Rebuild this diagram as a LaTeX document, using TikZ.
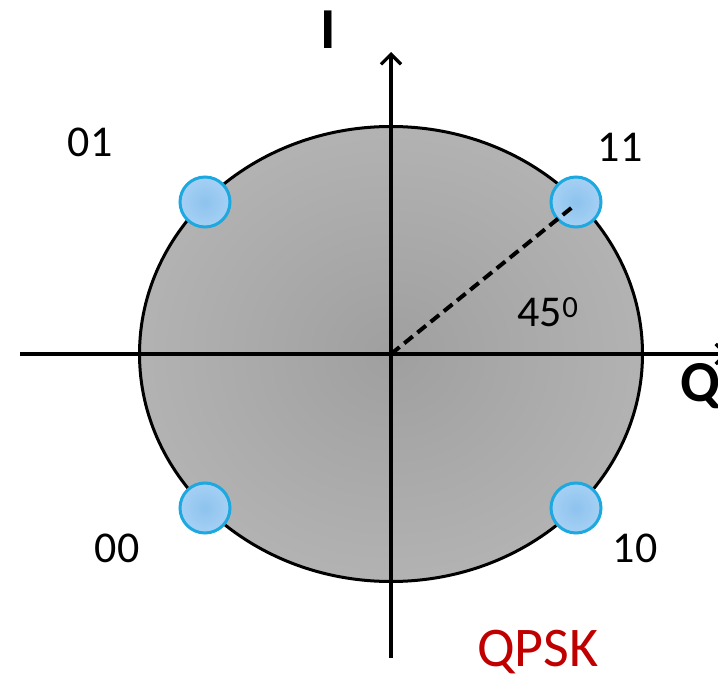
\documentclass[tikz,border=0pt]{standalone}
\usepackage{fontspec}
\setmainfont{Carlito}
\usetikzlibrary{arrows.meta}
\definecolor{dotfill}{HTML}{A6D0F4}
\definecolor{dotin}{HTML}{8DC3EE}
\definecolor{dotedge}{HTML}{1EA8E0}
\definecolor{qred}{HTML}{C00000}
\tikzset{
  axis/.style={line width=3.4pt, -{Straight Barb[length=10pt,width=20pt,line width=3.2pt]}},
  dotnode/.style={circle, minimum size=50pt, inner sep=0pt, draw=dotedge, line width=3pt, inner color=dotin, outer color=dotfill},
  lbl/.style={font=\fontsize{44}{44}\selectfont, inner sep=0pt},
  ax/.style={font=\fontsize{58}{58}\selectfont\bfseries, inner sep=0pt}
}
\begin{document}
\begin{tikzpicture}[x=1pt,y=-1pt]
\useasboundingbox (0,0) rectangle (718,677);
\coordinate (O) at (391,354);
\path[shade, inner color=gray!75, outer color=gray!60] (O) ellipse [x radius=251.5, y radius=227.5];
\draw[line width=3pt] (O) ellipse [x radius=251.5, y radius=227.5];
\coordinate (xl) at (20,354);
\coordinate (xr) at (728,354);
\coordinate (yb) at (391,658);
\coordinate (yt) at (391,52);
\draw[axis] (xl) -- (xr);
\draw[axis] (yb) -- (yt);
\node[dotnode] (d01) at (205,202) {};
\node[dotnode] (d11) at (576,202) {};
\node[dotnode] (d00) at (205,508) {};
\node[dotnode] (d10) at (576,508) {};
\draw[line width=4pt, dash pattern=on 11pt off 6pt] (O) -- (575,205);
\node[ax] (I) at (328,30) {I};
\node[ax] (Q) at (700,386) {Q};
\node[lbl] (l01) at (90,142) {01};
\node[lbl] (l11) at (620,147) {11};
\node[lbl] (l00) at (117,548) {00};
\node[lbl] (l10) at (635,548) {10};
\node[lbl] (ang) at (548,312) {45$^{\mathrm{0}}$};
\node[font=\fontsize{56}{56}\selectfont, text=qred, inner sep=0pt] (qpsk) at (538,652) {QPSK};
\end{tikzpicture}
\end{document}
